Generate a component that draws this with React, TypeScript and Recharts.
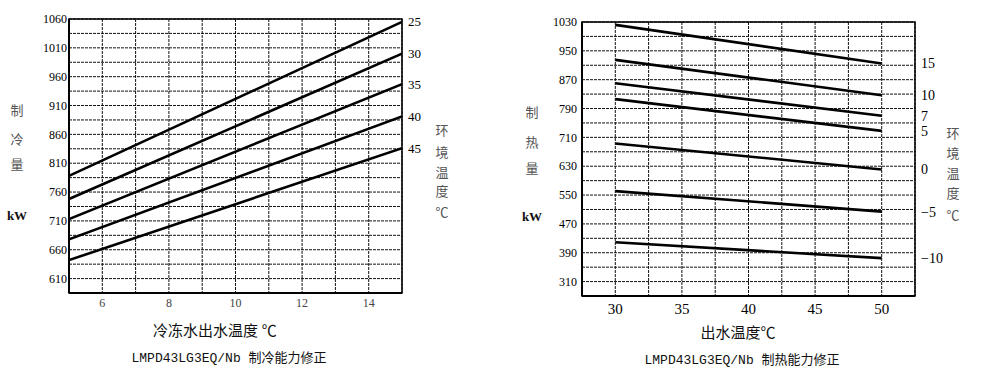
import React from 'react';
import { LineChart, Line, XAxis, YAxis, CartesianGrid, ReferenceArea } from 'recharts';

// cooling chart (left)
const coolX = [5, 15];
const cool25 = [788, 1055];
const cool30 = [748, 1000];
const cool35 = [713, 947];
const cool40 = [678, 891];
const cool45 = [642, 836];
const coolSeries = [cool25, cool30, cool35, cool40, cool45];
const coolTemps = ['25', '30', '35', '40', '45'];
const coolXTicks = [5, 6, 7, 8, 9, 10, 11, 12, 13, 14, 15];
const coolXLabels = [6, 8, 10, 12, 14];
const coolYTicks = [585, 610, 635, 660, 685, 710, 735, 760, 785, 810, 835, 860, 885, 910, 935, 960, 985, 1010, 1035, 1060];
const coolYLabels = [610, 660, 710, 760, 810, 860, 910, 960, 1010, 1060];

// heating chart (right)
const heatX = [30, 50];
const heat15 = [1022, 915];
const heat10 = [925, 827];
const heat7 = [860, 770];
const heat5 = [816, 728];
const heat0 = [693, 621];
const heatM5 = [561, 504];
const heatM10 = [419, 375];
const heatSeries = [heat15, heat10, heat7, heat5, heat0, heatM5, heatM10];
const heatTemps = ['15', '10', '7', '5', '0', '\u22125', '\u221210'];
const heatXTicks = [27.5, 30, 32.5, 35, 37.5, 40, 42.5, 45, 47.5, 50, 52.5];
const heatXLabels = [30, 35, 40, 45, 50];
const heatYTicks = [270, 310, 350, 390, 430, 470, 510, 550, 590, 630, 670, 710, 750, 790, 830, 870, 910, 950, 990, 1030];
const heatYLabels = [310, 390, 470, 550, 630, 710, 790, 870, 950, 1030];

const SERIF = "'Liberation Serif', 'Noto Sans CJK SC', serif";
const MONO = "'Liberation Mono', 'Noto Sans CJK SC', monospace";

function rows(xs: number[], series: number[][]) {
    return xs.map((x, i) => {
        const row: Record<string, number> = { x };
        series.forEach((s, k) => (row['s' + k] = s[i]));
        return row;
    });
}

function Stack({ chars, x, ys, size = 13, color = '#333', bold = false }: { chars: string[]; x: number; ys: number[]; size?: number; color?: string; bold?: boolean }) {
    return (
        <>
            {chars.map((c, i) => (
                <div
                    key={i}
                    style={{
                        position: 'absolute',
                        left: x - 20,
                        width: 40,
                        top: ys[i] - size / 2 - 1,
                        textAlign: 'center',
                        fontSize: size,
                        lineHeight: `${size + 2}px`,
                        color,
                        fontWeight: bold ? 'bold' : 'normal',
                        fontFamily: SERIF,
                    }}
                >
                    {c}
                </div>
            ))}
        </>
    );
}

function Caption({ text, cx, cy, size, font, color = '#111' }: { text: string; cx: number; cy: number; size: number; font: string; color?: string }) {
    return (
        <div
            style={{
                position: 'absolute',
                left: cx - 200,
                width: 400,
                top: cy - size / 2 - 2,
                textAlign: 'center',
                fontSize: size,
                lineHeight: `${size + 4}px`,
                fontFamily: font,
                color,
                whiteSpace: 'pre',
            }}
        >
            {text}
        </div>
    );
}

type ChartProps = {
    xs: number[];
    series: number[][];
    temps: string[];
    xDomain: [number, number];
    yDomain: [number, number];
    xTicks: number[];
    xLabels: number[];
    yTicks: number[];
    yLabels: number[];
    width: number;
    margin: { top: number; right: number; bottom: number; left: number };
    xTickStyle: { fontSize: number; fill: string };
    xTickMargin: number;
    yTickMargin: number;
    tempSize: number;
};

function Correction(p: ChartProps) {
    const data = rows(p.xs, p.series);
    const ends = p.series.map((s) => s[s.length - 1]);
    return (
        <LineChart width={p.width} height={374} data={data} margin={p.margin} style={{ fontFamily: SERIF }}>
            <CartesianGrid stroke="#111" strokeDasharray="3 1" strokeWidth={1} />
            <XAxis
                dataKey="x"
                type="number"
                domain={p.xDomain}
                ticks={p.xTicks}
                allowDataOverflow
                interval={0}
                tickFormatter={(v: number) => (p.xLabels.includes(v) ? String(v) : '')}
                tickLine={false}
                tickSize={0}
                tickMargin={p.xTickMargin}
                height={30}
                axisLine={{ stroke: '#000', strokeWidth: 2 }}
                tick={{ ...p.xTickStyle, fontFamily: SERIF }}
            />
            <YAxis
                type="number"
                domain={p.yDomain}
                ticks={p.yTicks}
                allowDataOverflow
                interval={0}
                tickFormatter={(v: number) => (p.yLabels.includes(v) ? String(v) : '')}
                tickLine={false}
                tickSize={0}
                tickMargin={p.yTickMargin}
                width={40}
                axisLine={{ stroke: '#000', strokeWidth: 2 }}
                tick={{ fontSize: 12, fill: '#000', fontFamily: SERIF }}
            />
            <YAxis
                yAxisId="r"
                orientation="right"
                type="number"
                domain={p.yDomain}
                ticks={ends}
                allowDataOverflow
                interval={0}
                tickFormatter={(v: number) => p.temps[ends.indexOf(v)] ?? ''}
                tickLine={false}
                tickSize={0}
                tickMargin={6}
                width={60}
                axisLine={false}
                tick={{ fontSize: p.tempSize, fill: '#000', fontFamily: SERIF, textAnchor: 'start' }}
            />
            <ReferenceArea
                x1={p.xDomain[0]}
                x2={p.xDomain[1]}
                y1={p.yDomain[0]}
                y2={p.yDomain[1]}
                fill="none"
                stroke="#000"
                strokeWidth={1.5}
                fillOpacity={0}
            />
            {p.series.map((_, k) => (
                <Line
                    key={k}
                    dataKey={'s' + k}
                    stroke="#000"
                    strokeWidth={2.6}
                    dot={false}
                    activeDot={false}
                    isAnimationActive={false}
                />
            ))}
        </LineChart>
    );
}

export default function App() {
    return (
        <div style={{ position: 'absolute', left: 0, top: 0, width: 981, height: 374, background: '#fff', overflow: 'hidden', fontFamily: SERIF }}>
            <div style={{ position: 'absolute', left: 0, top: 0 }}>
                <Correction
                    xs={coolX}
                    series={coolSeries}
                    temps={coolTemps}
                    xDomain={[5, 15]}
                    yDomain={[585, 1060]}
                    xTicks={coolXTicks}
                    xLabels={coolXLabels}
                    yTicks={coolYTicks}
                    yLabels={coolYLabels}
                    width={490}
                    margin={{ top: 19, right: 28, bottom: 51, left: 29 }}
                    xTickStyle={{ fontSize: 12, fill: '#444' }}
                    xTickMargin={5}
                    yTickMargin={2}
                    tempSize={13}
                />
            </div>
            <div style={{ position: 'absolute', left: 490, top: 0 }}>
                <Correction
                    xs={heatX}
                    series={heatSeries}
                    temps={heatTemps}
                    xDomain={[27.5, 52.5]}
                    yDomain={[270, 1030]}
                    xTicks={heatXTicks}
                    xLabels={heatXLabels}
                    yTicks={heatYTicks}
                    yLabels={heatYLabels}
                    width={491}
                    margin={{ top: 22, right: 6, bottom: 48, left: 52 }}
                    xTickStyle={{ fontSize: 15, fill: '#000' }}
                    xTickMargin={7}
                    yTickMargin={5}
                    tempSize={14}
                />
            </div>

            <Stack chars={['制', '冷', '量']} x={17} ys={[110, 139, 164]} size={13} color="#555" />
            <Stack chars={['kW']} x={17} ys={[215]} size={13} color="#111" bold />
            <Stack chars={['环', '境', '温', '度', '℃']} x={442} ys={[130, 152, 172, 191, 212]} size={13} color="#555" />
            <Caption text="冷冻水出水温度 ℃" cx={215} cy={331} size={15} font={SERIF} />
            <Caption text="LMPD43LG3EQ/Nb 制冷能力修正" cx={229} cy={358} size={13} font={MONO} />

            <Stack chars={['制', '热', '量']} x={532} ys={[112, 142, 168]} size={13} color="#555" />
            <Stack chars={['kW']} x={532} ys={[216]} size={13} color="#111" bold />
            <Stack chars={['环', '境', '温', '度', '℃']} x={953} ys={[133, 153, 173, 193, 215]} size={13} color="#555" />
            <Caption text="出水温度℃" cx={738} cy={333} size={15} font={SERIF} />
            <Caption text="LMPD43LG3EQ/Nb 制热能力修正" cx={742} cy={360} size={13} font={MONO} />
        </div>
    );
}
